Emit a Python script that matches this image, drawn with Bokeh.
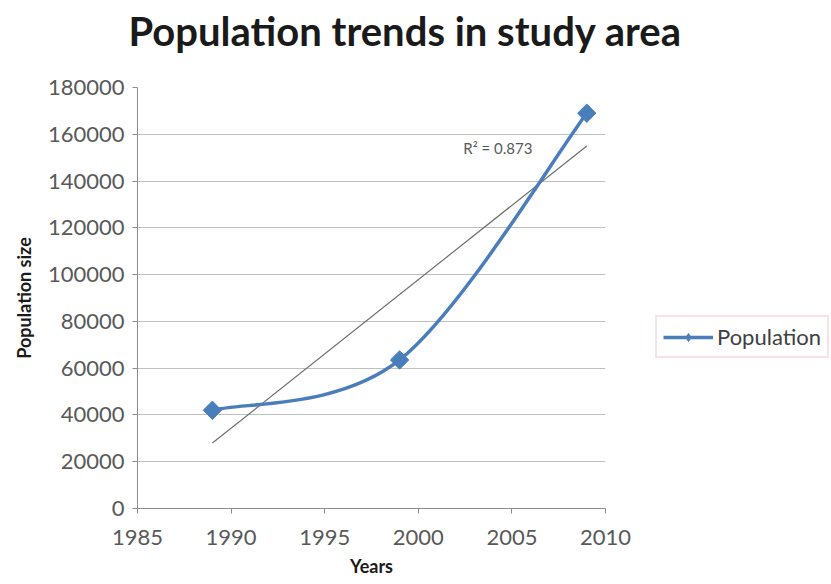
import numpy as np
from bokeh.plotting import figure
from bokeh.models import Label, Legend, LegendItem, FixedTicker, Range1d, NumeralTickFormatter, Title
from bokeh.embed import file_html
from bokeh.resources import INLINE

# ---- data ----
years = [1989, 1999, 2009]
population = [42000, 63500, 169000]
x_ticks = [1985, 1990, 1995, 2000, 2005, 2010]
y_ticks = [0, 20000, 40000, 60000, 80000, 100000, 120000, 140000, 160000, 180000]
r2_text = "R\u00b2 = 0.873"

FONT = "Lato"
BLUE = "#4A7EBB"

p = figure(frame_width=468, frame_height=421, output_backend="svg", toolbar_location=None,
           min_border_left=137, min_border_right=226, min_border_top=87, min_border_bottom=76,
           x_range=Range1d(1985, 2010), y_range=Range1d(0, 180000))
p.outline_line_color = None

# spacer between title and plot area
p.add_layout(Title(text=" ", text_font_size="1px", standoff=30), "above")

p.title.text = "Population trends in study area"
p.title.text_font = FONT
p.title.text_font_size = "40px"
p.title.text_font_style = "bold"
p.title.text_color = "#1a1a1a"
p.title.align = "left"
p.title.offset = -9
p.title.standoff = 0

# axes
for ax in (p.xaxis[0], p.yaxis[0]):
    ax.axis_line_color = "#8c8c8c"
    ax.major_tick_line_color = "#8c8c8c"
    ax.major_tick_out = 5
    ax.major_tick_in = 0
    ax.minor_tick_line_color = None
    ax.major_label_text_font = FONT
    ax.major_label_text_font_size = "22px"
    ax.major_label_text_color = "#595959"
    ax.axis_label_text_font = FONT
    ax.axis_label_text_font_size = "18px"
    ax.axis_label_text_font_style = "bold"
    ax.axis_label_text_color = "#1a1a1a"

p.xaxis.ticker = FixedTicker(ticks=x_ticks)
p.yaxis.ticker = FixedTicker(ticks=y_ticks)
p.yaxis.formatter = NumeralTickFormatter(format="0")
p.xaxis.axis_label = "Years"
p.yaxis.axis_label = "Population size"
p.yaxis.major_label_standoff = 8
p.yaxis.axis_label_standoff = 10
p.xaxis.major_label_standoff = 16
p.xaxis.axis_label_standoff = 7

p.xgrid.grid_line_color = None
p.ygrid.grid_line_color = "#bfbfbf"
p.ygrid.grid_line_width = 1

# ---- smoothed series (Catmull-Rom style Bezier, as spreadsheet "smoothed line") ----
xs = np.array(years, dtype=float)
ys = np.array(population, dtype=float)
n = len(xs)
x0, y0, x1, y1, cx0, cy0, cx1, cy1 = [], [], [], [], [], [], [], []
for i in range(n - 1):
    pm = max(i - 1, 0)
    pp = min(i + 2, n - 1)
    x0.append(xs[i]); y0.append(ys[i])
    x1.append(xs[i + 1]); y1.append(ys[i + 1])
    cx0.append(xs[i] + (xs[i + 1] - xs[pm]) / 6)
    cy0.append(ys[i] + (ys[i + 1] - ys[pm]) / 6)
    cx1.append(xs[i + 1] - (xs[pp] - xs[i]) / 6)
    cy1.append(ys[i + 1] - (ys[pp] - ys[i]) / 6)

# linear trend line from the data
slope, intercept = np.polyfit(xs, ys, 1)
trend_x = [xs.min(), xs.max()]
trend_y = [slope * v + intercept for v in trend_x]
p.line(trend_x, trend_y, line_color="#6e6e6e", line_width=1.2)

p.bezier(x0=x0, y0=y0, x1=x1, y1=y1, cx0=cx0, cy0=cy0, cx1=cx1, cy1=cy1,
         line_color=BLUE, line_width=3.5)
p.scatter(years, population, marker="square", angle=np.pi / 4, size=13,
          fill_color=BLUE, line_color=BLUE)

p.add_layout(Label(x=2002.4, y=154000, text=r2_text, text_font=FONT, text_font_size="15px",
                   text_color="#595959", text_baseline="middle"))

# legend glyph: a visible line + diamond
leg_line = p.line([np.nan], [np.nan], line_color=BLUE, line_width=3.5)
leg_pt = p.scatter([np.nan], [np.nan], marker="diamond", size=17,
                   fill_color=BLUE, line_color=BLUE)
legend = Legend(items=[LegendItem(label="Population", renderers=[leg_line, leg_pt])],
                location=(50, 150), orientation="vertical",
                label_text_font=FONT, label_text_font_size="22px", label_text_color="#404040",
                border_line_color="#f0c8d0", border_line_width=2, background_fill_color="white",
                glyph_width=50, glyph_height=20, padding=6, margin=0, label_standoff=4,
                spacing=0)
p.add_layout(legend, "right")

open("out.html", "w").write(file_html(p, INLINE))
